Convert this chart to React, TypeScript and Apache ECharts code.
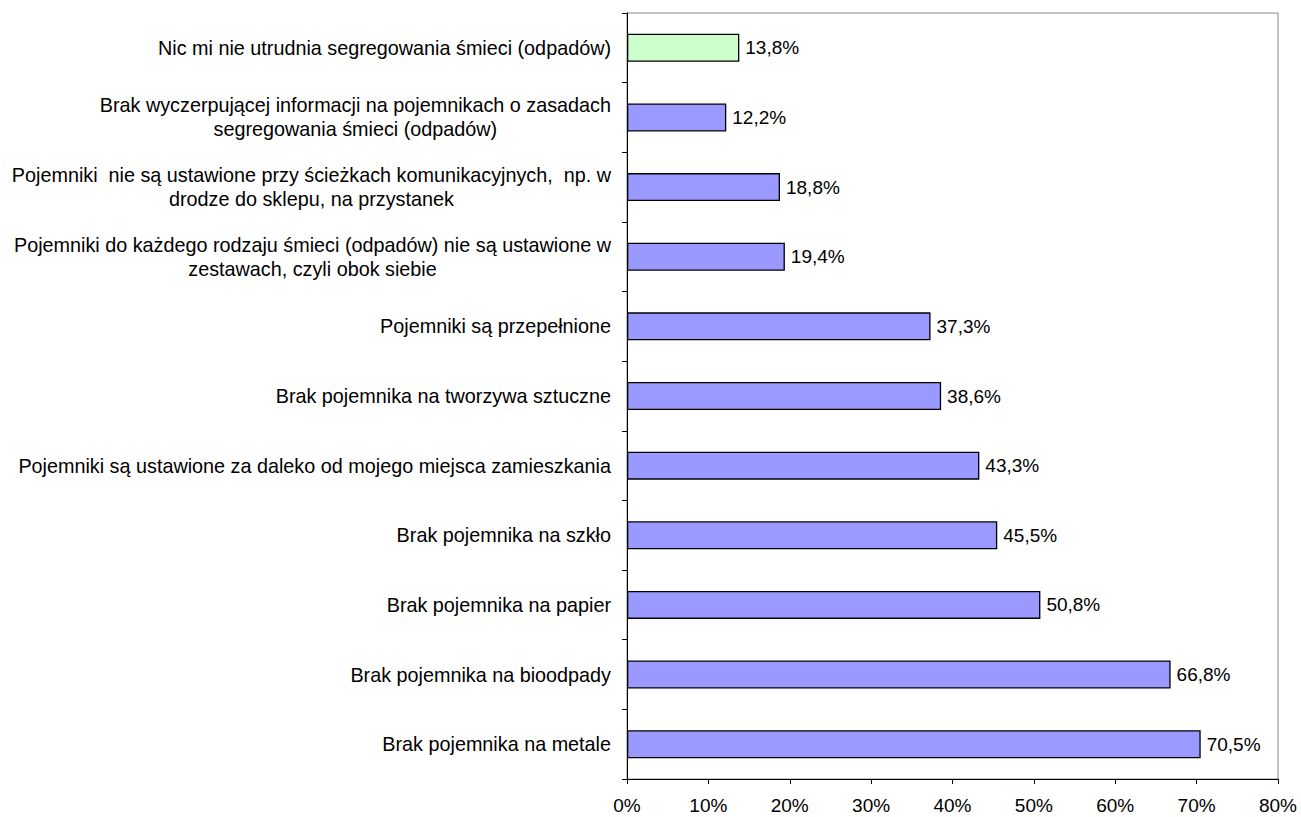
import React, { useEffect, useRef } from "react";
import * as echarts from "echarts";

const categories: string[] = [
  "Brak pojemnika na metale",
  "Brak pojemnika na bioodpady",
  "Brak pojemnika na papier",
  "Brak pojemnika na szkło",
  "Pojemniki są ustawione za daleko od mojego miejsca zamieszkania",
  "Brak pojemnika na tworzywa sztuczne",
  "Pojemniki są przepełnione",
  "Pojemniki do każdego rodzaju śmieci (odpadów) nie są ustawione w\nzestawach, czyli obok siebie",
  "Pojemniki  nie są ustawione przy ścieżkach komunikacyjnych,  np. w\ndrodze do sklepu, na przystanek",
  "Brak wyczerpującej informacji na pojemnikach o zasadach\nsegregowania śmieci (odpadów)",
  "Nic mi nie utrudnia segregowania śmieci (odpadów)",
];

const values: number[] = [70.5, 66.8, 50.8, 45.5, 43.3, 38.6, 37.3, 19.4, 18.8, 12.2, 13.8];

const xTicks = { min: 0, max: 80, interval: 10 };

const BLUE = "#9999FF";
const GREEN = "#CCFFCC";

export default function App() {
  const ref = useRef<HTMLDivElement>(null);
  useEffect(() => {
    if (!ref.current) return;
    const chart = echarts.init(ref.current, undefined, { renderer: "svg" });
    const font = "'Liberation Sans', Arial, sans-serif";
    chart.setOption({
      animation: false,
      backgroundColor: "#ffffff",
      grid: {
        left: 627,
        top: 13,
        right: 23,
        bottom: 38,
        show: true,
        borderColor: "#888888",
        borderWidth: 1,
      },
      xAxis: {
        type: "value",
        min: xTicks.min,
        max: xTicks.max,
        interval: xTicks.interval,
        axisLine: { show: true, lineStyle: { color: "#000", width: 1 } },
        axisTick: { show: true, length: 5, lineStyle: { color: "#000" } },
        splitLine: { show: false },
        axisLabel: {
          color: "#000",
          fontFamily: font,
          fontSize: 19,
          margin: 17,
          formatter: (v: number) => v + "%",
        },
      },
      yAxis: {
        type: "category",
        data: categories,
        boundaryGap: true,
        axisLine: { show: true, onZero: false, lineStyle: { color: "#000", width: 1 } },
        axisTick: { show: true, length: 5, lineStyle: { color: "#000" } },
        axisLabel: {
          color: "#000",
          fontFamily: font,
          fontSize: 19.8,
          margin: 16,
          formatter: (v: string) => v.split("\n").map((l) => "{a|" + l + "}").join("\n"),
          rich: {
            a: {
              align: "center",
              fontFamily: font,
              fontSize: 19.8,
              color: "#000",
              lineHeight: 24,
            },
          },
        },
      },
      series: [
        {
          type: "bar",
          data: values.map((v, i) => ({
            value: v,
            itemStyle: { color: i === values.length - 1 ? GREEN : BLUE },
          })),
          barWidth: 28,
          itemStyle: { borderColor: "#000", borderWidth: 1.3 },
          label: {
            show: true,
            position: "right",
            distance: 6,
            color: "#000",
            fontFamily: font,
            fontSize: 19,
            formatter: (p: any) => p.value.toFixed(1).replace(".", ",") + "%",
          },
        },
      ],
    });
    return () => chart.dispose();
  }, []);
  return (
    <div
      ref={ref}
      style={{ position: "fixed", left: 0, top: 0, width: 1301, height: 817, background: "#fff" }}
    />
  );
}
